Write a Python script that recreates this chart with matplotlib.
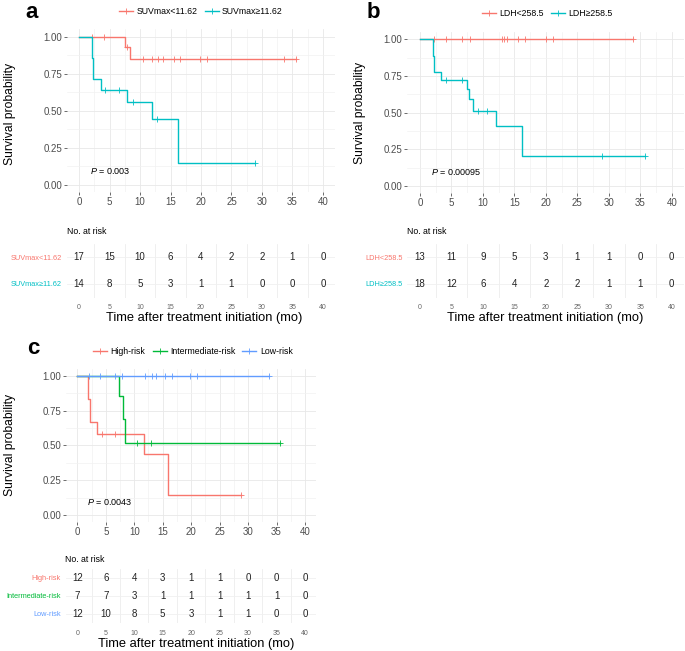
import numpy as np
import matplotlib
matplotlib.use("Agg")
import matplotlib.pyplot as plt
from matplotlib.lines import Line2D

plt.rcParams['font.family'] = ['Liberation Sans', 'DejaVu Sans']
plt.rcParams['mathtext.fontset'] = 'custom'
plt.rcParams['mathtext.it'] = 'Liberation Sans:italic'
plt.rcParams['mathtext.rm'] = 'Liberation Sans'

W, H = 685, 651
RED, TEAL, GREEN, BLUE = '#F8766D', '#00BFC4', '#00BA38', '#619CFF'

RISK_TIMES = [0, 5, 10, 15, 20, 25, 30, 35, 40]

# panel a: SUVmax
A_LABELS = ['SUVmax<11.62', 'SUVmax≥11.62']
A_LOW_T = [0, 7.5, 8.3, 35.6]
A_LOW_S = [1.0, 0.933, 0.848, 0.848]
A_LOW_CENS = [2.1, 4.0, 7.8, 10.5, 12.0, 13.0, 13.8, 15.5, 16.5, 19.8, 21.0, 33.6, 35.6]
A_HIGH_T = [0, 2.1, 2.2, 2.3, 3.5, 7.9, 11.9, 16.2, 28.9]
A_HIGH_S = [1.0, 0.857, 0.786, 0.714, 0.643, 0.557, 0.445, 0.149, 0.149]
A_HIGH_CENS = [4.3, 6.6, 8.9, 12.8, 28.9]
A_RISK = [[17, 15, 10, 6, 4, 2, 2, 1, 0],
          [14, 8, 5, 3, 1, 1, 0, 0, 0]]
A_P = '0.003'

# panel b: LDH
B_LABELS = ['LDH<258.5', 'LDH≥258.5']
B_LOW_T = [0, 33.8]
B_LOW_S = [1.0, 1.0]
B_LOW_CENS = [2.2, 4.1, 6.6, 7.9, 13.0, 13.3, 13.8, 15.6, 16.7, 20.0, 21.2, 33.8]
B_HIGH_T = [0, 2.05, 2.15, 2.3, 3.4, 7.5, 7.8, 8.4, 12.0, 16.2, 35.8]
B_HIGH_S = [1.0, 0.889, 0.833, 0.778, 0.722, 0.659, 0.59, 0.511, 0.411, 0.206, 0.206]
B_HIGH_CENS = [4.2, 6.6, 9.2, 10.6, 28.9, 35.8]
B_RISK = [[13, 11, 9, 5, 3, 1, 1, 0, 0],
          [18, 12, 6, 4, 2, 2, 1, 1, 0]]
B_P = '0.00095'

# panel c: risk groups
C_LABELS = ['High-risk', 'Intermediate-risk', 'Low-risk']
C_HIGH_T = [0, 1.9, 2.2, 2.3, 3.4, 11.8, 16.0, 28.7]
C_HIGH_S = [1.0, 0.833, 0.75, 0.667, 0.583, 0.437, 0.146, 0.146]
C_HIGH_CENS = [4.3, 6.6, 28.7]
C_INT_T = [0, 7.4, 8.0, 8.3, 35.6]
C_INT_S = [1.0, 0.857, 0.686, 0.514, 0.514]
C_INT_CENS = [10.5, 12.9, 35.6]
C_LOW_T = [0, 33.7]
C_LOW_S = [1.0, 1.0]
C_LOW_CENS = [2.1, 4.0, 6.6, 7.8, 11.9, 13.1, 13.9, 15.4, 16.6, 19.8, 21.1, 33.7]
C_RISK = [[12, 6, 4, 3, 1, 1, 0, 0, 0],
          [7, 7, 3, 1, 1, 1, 1, 1, 0],
          [12, 10, 8, 5, 3, 1, 1, 0, 0]]
C_P = '0.0043'


def px_axes(fig, left, top, right, bottom):
    return fig.add_axes([left / W, 1 - bottom / H, (right - left) / W, (bottom - top) / H])


def ftext(fig, x, y, s, **kw):
    fig.text(x / W, 1 - y / H, s, **kw)


def km_panel(ax, curves, pval):
    for t, s, cens, col in curves:
        t = np.asarray(t)
        s = np.asarray(s)
        ax.step(t, s, where='post', color=col, lw=1.0)
        cens = np.asarray(cens)
        cs = s[np.searchsorted(t, cens, side='right') - 1]
        ax.plot(cens, cs, ls='none', marker='+', color=col, ms=4.5, mew=0.6)
    ax.set_xlim(-2, 42)
    ax.set_ylim(-0.05, 1.05)
    ax.set_xticks(RISK_TIMES)
    ax.set_xticks(np.arange(2.5, 40, 5), minor=True)
    ax.set_yticks([0, 0.25, 0.5, 0.75, 1.0])
    ax.set_yticklabels(['0.00', '0.25', '0.50', '0.75', '1.00'])
    ax.set_yticks([0.125, 0.375, 0.625, 0.875], minor=True)
    ax.grid(which='major', color='#E8E8E8', lw=0.6)
    ax.grid(which='minor', color='#F2F2F2', lw=0.5)
    ax.set_axisbelow(True)
    for sp in ax.spines.values():
        sp.set_visible(False)
    ax.tick_params(which='major', length=2, width=0.5, color='#333333',
                   labelsize=7, labelcolor='#4D4D4D', pad=1.5)
    ax.tick_params(which='minor', length=0)
    ax.text(1.7, 0.095, '$P$ = ' + pval, fontsize=6.5, ha='left', va='center')


def risk_table(ax, labels, colors, table):
    n = len(labels)
    ys = np.arange(n, 0, -1)
    for row, y in zip(table, ys):
        for t, v in zip(RISK_TIMES, row):
            ax.text(t, y, str(v), ha='center', va='center', fontsize=7, color='#222222')
    ax.set_xlim(-2, 42)
    ax.set_ylim(0.5, n + 0.5)
    ax.set_yticks(ys)
    ax.set_yticklabels(labels)
    for lab, col in zip(ax.get_yticklabels(), colors):
        lab.set_color(col)
    ax.set_xticks(RISK_TIMES)
    ax.set_xticks(np.arange(2.5, 40, 5), minor=True)
    ax.grid(which='minor', axis='x', color='#EDEDED', lw=0.6)
    ax.grid(which='major', axis='y', color='#F0F0F0', lw=0.6)
    ax.set_axisbelow(True)
    for sp in ax.spines.values():
        sp.set_visible(False)
    ax.tick_params(axis='y', length=0, labelsize=5.3, pad=3.5)
    ax.tick_params(axis='x', which='both', length=0, labelsize=5, labelcolor='#666666', pad=5)


def legend(fig, cx, cy, labels, colors):
    handles = [Line2D([], [], color=c, lw=1.0, marker='+', ms=4.5, mew=0.6) for c in colors]
    fig.legend(handles, labels, loc='center', bbox_to_anchor=(cx / W, 1 - cy / H),
               ncol=len(labels), frameon=False, fontsize=6.3, handlelength=1.6,
               handletextpad=0.4, columnspacing=0.8)


fig = plt.figure(figsize=(W / 100, H / 100), dpi=100)

# ---- panel a
ax = px_axes(fig, 67, 29.3, 335, 192.4)
km_panel(ax, [(A_LOW_T, A_LOW_S, A_LOW_CENS, RED),
              (A_HIGH_T, A_HIGH_S, A_HIGH_CENS, TEAL)], A_P)
tab = px_axes(fig, 67, 243.5, 335, 297.5)
risk_table(tab, A_LABELS, [RED, TEAL], A_RISK)
legend(fig, 201, 12, A_LABELS, [RED, TEAL])
ftext(fig, 32, 13, 'a', fontsize=16, fontweight='bold', ha='center', va='center')
ftext(fig, 10, 114, 'Survival probability', fontsize=8.7, rotation=90, ha='center', va='center')
ftext(fig, 67, 231, 'No. at risk', fontsize=6.3, ha='left', va='center')
ftext(fig, 204, 318, 'Time after treatment initiation (mo)', fontsize=9.3, ha='center', va='center')

# ---- panel b
ax = px_axes(fig, 407.4, 32, 684.3, 193.3)
km_panel(ax, [(B_LOW_T, B_LOW_S, B_LOW_CENS, RED),
              (B_HIGH_T, B_HIGH_S, B_HIGH_CENS, TEAL)], B_P)
tab = px_axes(fig, 407.4, 243.5, 684.3, 297.5)
risk_table(tab, B_LABELS, [RED, TEAL], B_RISK)
legend(fig, 547, 14, B_LABELS, [RED, TEAL])
ftext(fig, 373, 13, 'b', fontsize=16, fontweight='bold', ha='center', va='center')
ftext(fig, 360, 113, 'Survival probability', fontsize=8.7, rotation=90, ha='center', va='center')
ftext(fig, 407, 232, 'No. at risk', fontsize=6.3, ha='left', va='center')
ftext(fig, 545, 318, 'Time after treatment initiation (mo)', fontsize=9.3, ha='center', va='center')

# ---- panel c
ax = px_axes(fig, 65.9, 368.7, 316.4, 522)
km_panel(ax, [(C_HIGH_T, C_HIGH_S, C_HIGH_CENS, RED),
              (C_INT_T, C_INT_S, C_INT_CENS, GREEN),
              (C_LOW_T, C_LOW_S, C_LOW_CENS, BLUE)], C_P)
tab = px_axes(fig, 65.9, 569, 316.4, 623)
risk_table(tab, C_LABELS, [RED, GREEN, BLUE], C_RISK)
legend(fig, 193, 352, C_LABELS, [RED, GREEN, BLUE])
ftext(fig, 33, 348, 'c', fontsize=16, fontweight='bold', ha='center', va='center')
ftext(fig, 10, 445, 'Survival probability', fontsize=8.7, rotation=90, ha='center', va='center')
ftext(fig, 65, 559, 'No. at risk', fontsize=6.3, ha='left', va='center')
ftext(fig, 196, 644, 'Time after treatment initiation (mo)', fontsize=9.3, ha='center', va='center')

fig.savefig('out.png', dpi=100, facecolor='white')
